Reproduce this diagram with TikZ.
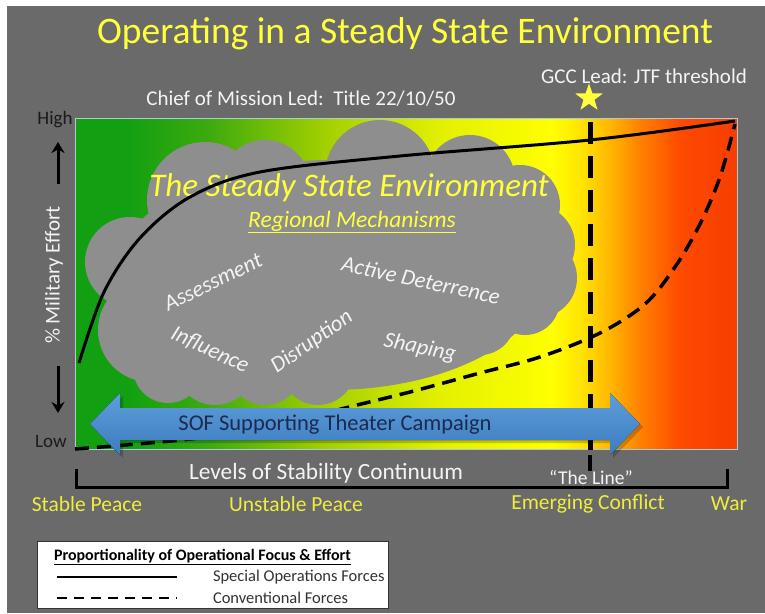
\documentclass[tikz,border=0pt]{standalone}
\usepackage{fontspec}
\setmainfont{Carlito}
\usetikzlibrary{shapes.geometric,arrows.meta}
\definecolor{bg}{HTML}{6A6A6A}
\definecolor{cloudgrey}{HTML}{8E8E8E}
\definecolor{ttlyellow}{HTML}{FFFF3C}
\definecolor{lblyellow}{HTML}{F0EC40}
\definecolor{txtwhite}{HTML}{F4F4F4}
\definecolor{darktxt}{HTML}{1A1A1A}
\definecolor{navy}{HTML}{1C2A50}
\definecolor{arrtop}{HTML}{5E9EDA}
\definecolor{arrbot}{HTML}{3C7CC0}
\definecolor{rimcol}{HTML}{A8CCD8}
\definecolor{g1}{HTML}{12A012}
\definecolor{g2}{HTML}{3CAA0E}
\definecolor{g3}{HTML}{A4D000}
\definecolor{g4}{HTML}{E2F000}
\definecolor{y1}{HTML}{FFFF00}
\definecolor{y2}{HTML}{FFE400}
\definecolor{y3}{HTML}{FFB400}
\definecolor{o1}{HTML}{FF8000}
\definecolor{o2}{HTML}{FF4A00}
\definecolor{r1}{HTML}{F63E00}
\pgfdeclarehorizontalshading{stab}{100bp}{color(0bp)=(g1); color(25bp)=(g1); color(29bp)=(g1); color(35bp)=(g2); color(44bp)=(g3); color(52.5bp)=(g4); color(61bp)=(y1); color(63.2bp)=(y2); color(65.5bp)=(y3); color(67.7bp)=(o1); color(70.7bp)=(o2); color(75bp)=(r1); color(100bp)=(r1)}
\tikzset{
  fsz/.style={font=\fontsize{#1}{#1}\selectfont},
  ifsz/.style={font=\itshape\fontsize{#1}{#1}\selectfont},
  plain/.style={inner sep=0pt, outer sep=0pt},
  whitetxt/.style={plain, text=txtwhite},
  yellowtxt/.style={plain, text=lblyellow, fsz=21.5},
  cloudword/.style={plain, text=txtwhite, ifsz=22.5},
  sofline/.style={line width=3pt, black},
  cfline/.style={line width=3.5pt, black, dash pattern=on 14pt off 8pt},
  vline/.style={line width=5pt, black, dash pattern=on 22pt off 12pt},
  bracket/.style={line width=3pt, black},
  yarrow/.style={line width=3pt, black, -{Stealth[length=11pt,width=13pt]}},
  legendbox/.style={fill=white, draw=black!80, line width=1pt},
}
\begin{document}
\begin{tikzpicture}[x=1pt,y=-1pt]
\useasboundingbox (0,0) rectangle (765,613);
\fill[white] (0,0) rectangle (765,613);
\fill[bg] (7,6) rectangle (765,613);

% gradient field
\fill[shading=stab] (75,118) rectangle (737,449);
\draw[rimcol, line width=1pt] (75,118) rectangle (737,449);

% cloud
\begin{scope}
\fill[cloudgrey] (330,275) ellipse [x radius=215pt, y radius=115pt];
\fill[cloudgrey] (205,200) circle [radius=58pt];
\fill[cloudgrey] (265,185) circle [radius=45pt];
\fill[cloudgrey] (380,175) circle [radius=55pt];
\fill[cloudgrey] (470,180) circle [radius=45pt];
\fill[cloudgrey] (520,205) circle [radius=40pt];
\fill[cloudgrey] (535,245) circle [radius=40pt];
\fill[cloudgrey] (537,278) circle [radius=40pt];
\fill[cloudgrey] (130,262) circle [radius=45pt];
\fill[cloudgrey] (150,330) circle [radius=52pt];
\fill[cloudgrey] (168,368) circle [radius=35pt];
\fill[cloudgrey] (215,365) circle [radius=40pt];
\fill[cloudgrey] (265,368) circle [radius=37pt];
\fill[cloudgrey] (318,368) circle [radius=37pt];
\fill[cloudgrey] (365,358) circle [radius=28pt];
\fill[cloudgrey] (420,340) circle [radius=30pt];
\fill[cloudgrey] (480,320) circle [radius=35pt];
\fill[cloudgrey] (525,300) circle [radius=35pt];
\end{scope}

% cloud texts
\node[plain, text=ttlyellow, ifsz=33] (steady) at (349,188) {The Steady State Environment};
\node[plain, text=ttlyellow, ifsz=23.5] (regional) at (352,222) {\underline{Regional Mechanisms}};
\node[cloudword, rotate=26] (assess) at (213,282) {Assessment};
\node[cloudword, rotate=-12] (active) at (421,280) {Active Deterrence};
\node[cloudword, rotate=-25] (influence) at (210,350) {Influence};
\node[cloudword, rotate=35] (disrupt) at (312,342) {Disruption};
\node[cloudword, rotate=-12] (shaping) at (420,348) {Shaping};

% curves
\draw[sofline] plot[smooth, tension=0.55] coordinates {(79,363) (104,292) (140,238) (190,197) (260,172) (400,156) (590,140) (735,121)};
\draw[cfline] plot[smooth, tension=0.55] coordinates {(75,449) (190,439) (280,425) (345,408) (410,392) (480,373) (540,357) (600,333) (645,304) (675,267) (700,224) (720,177) (735,124)};

% the line
\coordinate (vtop) at (590,122);
\coordinate (vbot) at (590,452);
\draw[vline] (vtop) -- (vbot);

% blue double arrow
\fill[black, opacity=0.2] (93,427) -- (123,396) -- (123,411) -- (613,411) -- (613,396) -- (643,427) -- (613,458) -- (613,443) -- (123,443) -- (123,458) -- cycle;
\fill[top color=arrtop, bottom color=arrbot] (90,424) -- (120,393) -- (120,408) -- (610,408) -- (610,393) -- (640,424) -- (610,455) -- (610,440) -- (120,440) -- (120,455) -- cycle;
\node[plain, text=navy, fsz=22.5] (sof) at (335,425) {SOF Supporting Theater Campaign};

% star and top labels
\node[star, star points=5, star point ratio=2.5, fill=ttlyellow, minimum size=29pt, inner sep=0pt] (star) at (589,98) {};
\node[plain, text=ttlyellow, fsz=37.5] (title) at (405,34) {Operating in a Steady State Environment};
\node[whitetxt, fsz=21] (gcc) at (644,76) {GCC Lead: JTF threshold};
\node[whitetxt, fsz=21] (chief) at (301,99) {Chief of Mission Led:\ \ Title 22/10/50};

% y axis
\node[plain, text=darktxt, fsz=19] (high) at (55,120) {High};
\node[plain, text=darktxt, fsz=19] (low) at (51,441) {Low};
\node[whitetxt, fsz=21, rotate=90] (effort) at (54,275) {\% Military Effort};
\coordinate (upS) at (58,184);
\coordinate (upE) at (58,142);
\coordinate (dnS) at (58,366);
\coordinate (dnE) at (58,413);
\draw[yarrow] (upS) -- (upE);
\draw[yarrow] (dnS) -- (dnE);

% bracket
\coordinate (bl) at (76,469);
\coordinate (br) at (727,469);
\draw[bracket] (bl) -- (76,487) -- (727,487) -- (br);
\coordinate (ttop) at (590,455);
\coordinate (tbot) at (590,471);
\draw[line width=4pt] (ttop) -- (tbot);
\node[whitetxt, fsz=23.3] (levels) at (326,473) {Levels of Stability Continuum};
\node[whitetxt, fsz=19.5] (theline) at (591,478) {``The Line''};
\node[yellowtxt] (stable) at (87,504) {Stable Peace};
\node[yellowtxt] (unstable) at (296,504) {Unstable Peace};
\node[yellowtxt] (emerging) at (588,504) {Emerging Conflict};
\node[yellowtxt] (war) at (729,504) {War};

% legend
\node[legendbox, minimum width=351pt, minimum height=67pt, inner sep=0pt] (legend) at (212.5,574.5) {};
\node[plain, anchor=west, fsz=16, text=black] (legtitle) at (54,557) {\bfseries\underline{Proportionality of Operational Focus \& Effort}};
\coordinate (s1) at (57,577);
\coordinate (s2) at (177,577);
\coordinate (c1) at (57,598);
\coordinate (c2) at (177,598);
\draw[line width=2.5pt] (s1) -- (s2);
\draw[line width=2.5pt, dash pattern=on 10pt off 7pt] (c1) -- (c2);
\node[plain, anchor=west, fsz=16.5, text=black!80] (legsof) at (213,577) {Special Operations Forces};
\node[plain, anchor=west, fsz=16.5, text=black!80] (legcf) at (213,598) {Conventional Forces};
\end{tikzpicture}
\end{document}
